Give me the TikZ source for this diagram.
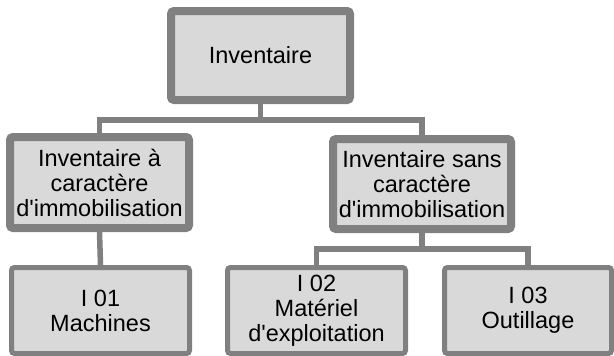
\documentclass[tikz,border=0pt]{standalone}
\usepackage{fontspec}
\setmainfont{Liberation Sans}[Ligatures=TeXOff]
\definecolor{boxline}{RGB}{128,128,128}
\definecolor{boxfill}{RGB}{217,217,217}
\begin{document}
\begin{tikzpicture}[x=1pt,y=-1pt,
  box/.style={draw=boxline,fill=boxfill,rounded corners=3pt,inner sep=0pt,
    align=center,font=\fontsize{23.5}{25}\selectfont,text=black},
  bigbox/.style={box,line width=8pt},
  leafbox/.style={box,line width=5pt},
  conn/.style={draw=boxline,line width=5.5pt}]
\useasboundingbox (0,0) rectangle (614,356);
\coordinate (bar1) at (0,120);
\coordinate (bar2) at (0,249);
\node[bigbox,minimum width=179pt,minimum height=89pt] (top) at (260.5,55.5) {Inventaire};
\node[bigbox,minimum width=179pt,minimum height=91pt] (left) at (99.5,182.5) {Inventaire à\\caractère\\d'immobilisation};
\node[bigbox,minimum width=178pt,minimum height=90pt] (right) at (422,184) {Inventaire sans\\caractère\\d'immobilisation};
\node[leafbox,minimum width=178pt,minimum height=86pt] (i1) at (100.5,310.5) {I 01\\Machines};
\node[leafbox,minimum width=178pt,minimum height=86pt] (i2) at (316.5,310.5) {I 02\\Matériel\\d'exploitation};
\node[leafbox,minimum width=167pt,minimum height=86pt] (i3) at (528,310.5) {I 03\\Outillage};
\draw[conn] (top.south) -- (top.south |- bar1) -| (left.north);
\draw[conn] (top.south |- bar1) -| (right.north);
\draw[conn] (left.south) -- (i1.north);
\draw[conn] (right.south) -- (right.south |- bar2) -| (i2.north);
\draw[conn] (right.south |- bar2) -| (i3.north);
\end{tikzpicture}
\end{document}
